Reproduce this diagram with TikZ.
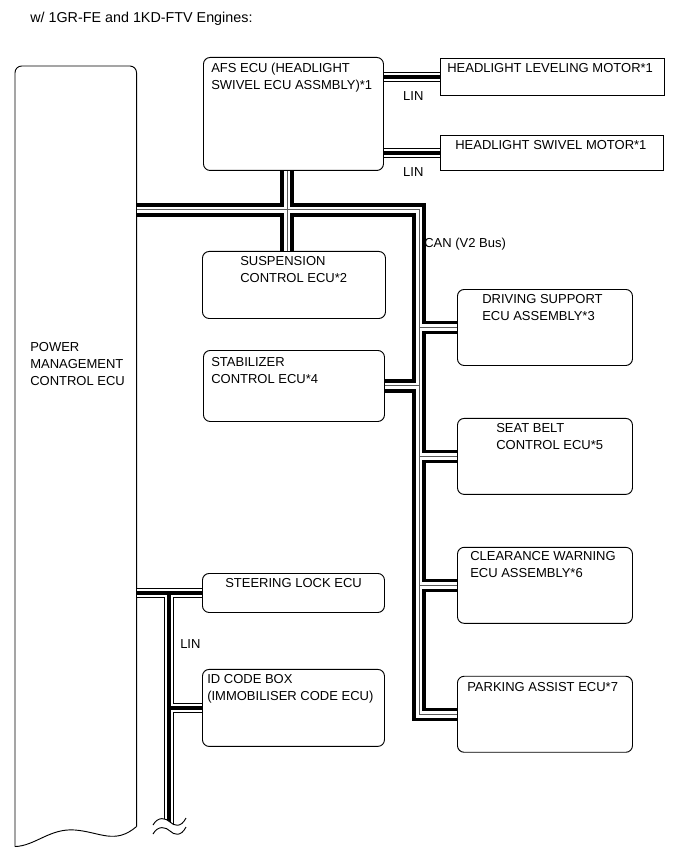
\documentclass[tikz,border=0pt]{standalone}
\usepackage{fontspec}
\setmainfont{Liberation Sans}
\usetikzlibrary{positioning, calc}

\begin{document}
\begin{tikzpicture}[
        x=0.75pt, y=-0.75pt,
        node distance=39pt,
        every node/.style={font=\fontsize{9.75}{12.75}\selectfont},
        ecu/.style={draw, line width=0.7pt, rounded corners=5pt, anchor=north west, inner sep=0pt},
        motor/.style={draw, line width=0.7pt, anchor=north west, inner sep=0pt},
        txt/.style={anchor=north west, inner sep=0pt, align=left},
        canbus/.style={line width=10pt, line join=miter,
            postaction={draw, white, line width=5pt, line join=miter},
            postaction={draw, black!65, line width=0.75pt}},
        linbus/.style={line width=7.5pt, line join=miter,
            postaction={draw, white, line width=6pt, line join=miter},
            postaction={draw, black, line width=2.7pt}},
    ]
    \useasboundingbox (0,0) rectangle (690,855);

    %% ===== Title =====
    \node[txt, font=\fontsize{10.75}{13}\selectfont] (title) at (30,12) {w/ 1GR-FE and 1KD-FTV Engines:};

    %% ===== Power management ECU (open bottom) =====
    \node[anchor=north west, inner sep=0pt, minimum width=90.75pt, minimum height=585pt] (pwr) at (15,66) {};
    \draw[line width=0.7pt, rounded corners=5pt] (pwr.south west) -- (pwr.north west) -- (pwr.north east) -- ([yshift=15pt]pwr.south east);
    \draw[line width=0.7pt] (pwr.south west) .. controls (35,846) and (50,828) .. (75,830)
        .. controls (100,832) and (115,845) .. ([yshift=15pt]pwr.south east);
    \node[txt] (pwrT) at ([shift={(15,276)}]pwr.north west) {POWER\\MANAGEMENT\\CONTROL ECU};

    %% ===== AFS ECU and motors =====
    \node[ecu, minimum width=135pt, minimum height=84.75pt] (afs) at (203,57) {};
    \node[txt] (afsT) at ([shift={(8,6)}]afs.north west) {AFS ECU (HEADLIGHT\\SWIVEL ECU ASSMBLY)*1};
    \node[motor, minimum width=168pt, minimum height=27.75pt] (lev) at (440,58) {};
    \node[txt] (levT) at ([shift={(7,5)}]lev.north west) {HEADLIGHT LEVELING MOTOR*1};
    \node[motor, minimum width=167.25pt, minimum height=26.25pt] (swv) at (440,135) {};
    \node[txt] (swvT) at ([shift={(15,5)}]swv.north west) {HEADLIGHT SWIVEL MOTOR*1};

    %% ===== Middle column =====
    \node[ecu, minimum width=137.25pt, minimum height=50.25pt] (susp) at (202,251) {};
    \node[txt] (suspT) at ([shift={(38,5)}]susp.north west) {SUSPENSION\\CONTROL ECU*2};
    \node[ecu, minimum width=135.75pt, minimum height=53.25pt] (stab) at (203,350) {};
    \node[txt] (stabT) at ([shift={(8,7)}]stab.north west) {STABILIZER\\CONTROL ECU*4};
    \node[ecu, minimum width=136.5pt, minimum height=29.25pt] (steer) at (202,573) {};
    \node[txt] (steerT) at ([shift={(23,5)}]steer.north west) {STEERING LOCK ECU};
    \node[ecu, minimum width=136.5pt, minimum height=57.75pt, below=42pt of steer] (idc) {};
    \node[txt] (idcT) at ([shift={(5,5)}]idc.north west) {ID CODE BOX\\(IMMOBILISER CODE ECU)};

    %% ===== Right column =====
    \node[ecu, minimum width=131.25pt, minimum height=57pt] (drv) at (457,289) {};
    \node[txt] (drvT) at ([shift={(25,5)}]drv.north west) {DRIVING SUPPORT\\ECU ASSEMBLY*3};
    \node[ecu, minimum width=131.25pt, minimum height=57pt, below=of drv] (seat) {};
    \node[txt] (seatT) at ([shift={(39,5)}]seat.north west) {SEAT BELT\\CONTROL ECU*5};
    \node[ecu, minimum width=131.25pt, minimum height=57pt, below=of seat] (clr) {};
    \node[txt] (clrT) at ([shift={(13,4)}]clr.north west) {CLEARANCE WARNING\\ECU ASSEMBLY*6};
    \node[ecu, minimum width=131.25pt, minimum height=57pt, below=of clr] (park) {};
    \node[txt] (parkT) at ([shift={(10,6)}]park.north west) {PARKING ASSIST ECU*7};

    %% ===== CAN bus =====
    \coordinate (canR) at (419,210);
    \coordinate (stem) at (287,210);
    \draw[canbus] (pwr.east |- canR) -- (canR) -- (canR |- park.west) -- (park.west)
        (stem |- afs.south) -- (stem |- susp.north)
        (stab.east) -- (canR |- stab.east)
        (canR |- drv.west) -- (drv.west)
        (canR |- seat.west) -- (seat.west)
        (canR |- clr.west) -- (clr.west);
    \node[txt] (canT) at ([shift={(5,28)}]canR) {CAN (V2 Bus)};

    %% ===== LIN lines =====
    \coordinate (linX) at (169,590);
    \coordinate (linEnd) at (169,826);
    \draw[linbus] (afs.east |- lev.west) -- (lev.west)
        (afs.east |- swv.west) -- (swv.west)
        (pwr.east |- steer.west) -- (steer.west)
        (linX |- steer.west) -- (linEnd)
        (linX |- idc.west) -- (idc.west);
    \node[txt] (lin1) at ([shift={(19,14)}]afs.east |- lev.west) {LIN};
    \node[txt] (lin2) at ([shift={(19,14.5)}]afs.east |- swv.west) {LIN};
    \node[txt] (lin3) at ([shift={(11,46)}]linX |- steer.west) {LIN};

    %% break mark at the end of the LIN line
    \begin{scope}[shift={(linEnd)}]
        \fill[white] (-16,-1) .. controls (-11,-10) and (-3,-8) .. (1,-4) .. controls (5,0) and (12,2) .. (17,-8)
            -- (17,1) .. controls (12,11) and (5,9) .. (1,5) .. controls (-3,1) and (-11,-1) .. (-16,8) -- cycle;
        \draw[line width=0.7pt] (-16,-1) .. controls (-11,-10) and (-3,-8) .. (1,-4) .. controls (5,0) and (12,2) .. (17,-8);
        \draw[line width=0.7pt] (-16,8) .. controls (-11,-1) and (-3,1) .. (1,5) .. controls (5,9) and (12,11) .. (17,1);
    \end{scope}

\end{tikzpicture}
\end{document}
